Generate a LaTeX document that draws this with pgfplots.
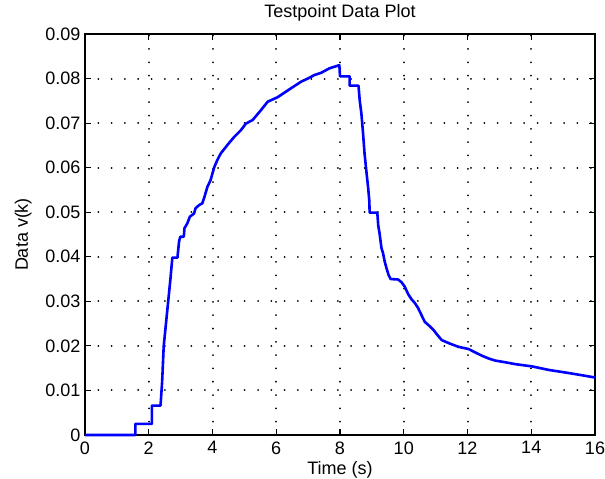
\documentclass[border=0pt]{standalone}
\usepackage{pgfplots}
\pgfplotsset{compat=1.18}
\usepackage{fontspec}
\setmainfont{Liberation Sans}
\begin{document}
\begin{tikzpicture}[font=\fontsize{18bp}{21bp}\selectfont]
\begin{axis}[
  scale only axis,
  width=510bp, height=401bp,
  xmin=0, xmax=16, ymin=0, ymax=0.09,
  xtick={0,2,...,16},
  ytick={0,0.01,0.02,0.03,0.04,0.05,0.06,0.07,0.08,0.09},
  yticklabels={0,0.01,0.02,0.03,0.04,0.05,0.06,0.07,0.08,0.09},
  scaled y ticks=false,
  /pgf/number format/assume math mode=true,
  tick align=inside,
  major tick length=6bp,
  tick style={black, line width=1.2bp},
  axis line style={black, line width=1.6bp},
  grid=major,
  major grid style={black, line width=2bp, dash pattern=on 0.01bp off 13.3bp, line cap=round},
  xticklabel style={yshift=-3bp},
  yticklabel style={xshift=-1bp},
  title={Testpoint Data Plot},
  title style={at={(0.5,1)}, anchor=base, yshift=11bp},
  xlabel={Time (s)},
  xlabel style={at={(0.5,0)}, anchor=base, yshift=-40bp},
  ylabel={Data v(k)},
  ylabel style={at={(0,0.5)}, anchor=base, rotate=0, yshift=57bp},
  clip=false,
]
\coordinate (ll) at (rel axis cs:0,0);
\coordinate (ur) at (rel axis cs:1,1);
\addplot[blue, line width=2.6bp, line join=round] coordinates {
(0,0) (1.58,0) (1.58,0.0025) (2.1,0.0025) (2.1,0.0066) (2.37,0.0066)
(2.42,0.012) (2.47,0.02) (2.54,0.025) (2.61,0.03) (2.68,0.035) (2.74,0.0398)
(2.9,0.0398) (2.95,0.0434) (2.99,0.0445) (3.10,0.0445) (3.12,0.0464)
(3.21,0.0475) (3.29,0.049) (3.42,0.0497) (3.47,0.0509) (3.58,0.0516)
(3.68,0.052) (3.75,0.0535) (3.84,0.0557) (3.94,0.0572) (4.05,0.0600)
(4.15,0.0617) (4.26,0.0632) (4.47,0.0651) (4.68,0.0669) (4.89,0.0684)
(5.05,0.0699) (5.26,0.0707) (5.52,0.0729) (5.73,0.0748) (6.04,0.0758)
(6.46,0.0778) (6.78,0.0793) (6.99,0.0800) (7.2,0.0808) (7.41,0.0813)
(7.67,0.0823) (7.98,0.0830)
(8.0,0.0805) (8.3,0.0805) (8.3,0.0784) (8.58,0.0784) (8.62,0.075)
(8.67,0.0722) (8.72,0.068) (8.77,0.0632) (8.83,0.059) (8.88,0.0557)
(8.92,0.0525) (8.93,0.0499) (9.17,0.0499) (9.2,0.047) (9.24,0.0453)
(9.3,0.042) (9.35,0.0408) (9.4,0.039) (9.46,0.0374) (9.52,0.036)
(9.59,0.035) (9.82,0.0349) (9.93,0.0343) (10.03,0.0333) (10.14,0.0316)
(10.24,0.0305) (10.35,0.0296) (10.45,0.0285) (10.55,0.027) (10.66,0.0254)
(10.8,0.0245) (10.93,0.0236) (11.05,0.0225) (11.19,0.0213) (11.45,0.0205)
(11.71,0.0198) (12.03,0.0193) (12.25,0.0185) (12.45,0.0178) (12.65,0.0172)
(12.87,0.0167) (13.2,0.0163) (13.5,0.0159) (14.02,0.0154) (14.55,0.0146)
(15.18,0.0139) (15.6,0.0134) (16,0.0129)
};
\end{axis}
\pgfresetboundingbox
\path[use as bounding box] ([shift={(-85bp,-44bp)}]ll) rectangle ([shift={(10bp,34bp)}]ur);
\end{tikzpicture}
\end{document}
